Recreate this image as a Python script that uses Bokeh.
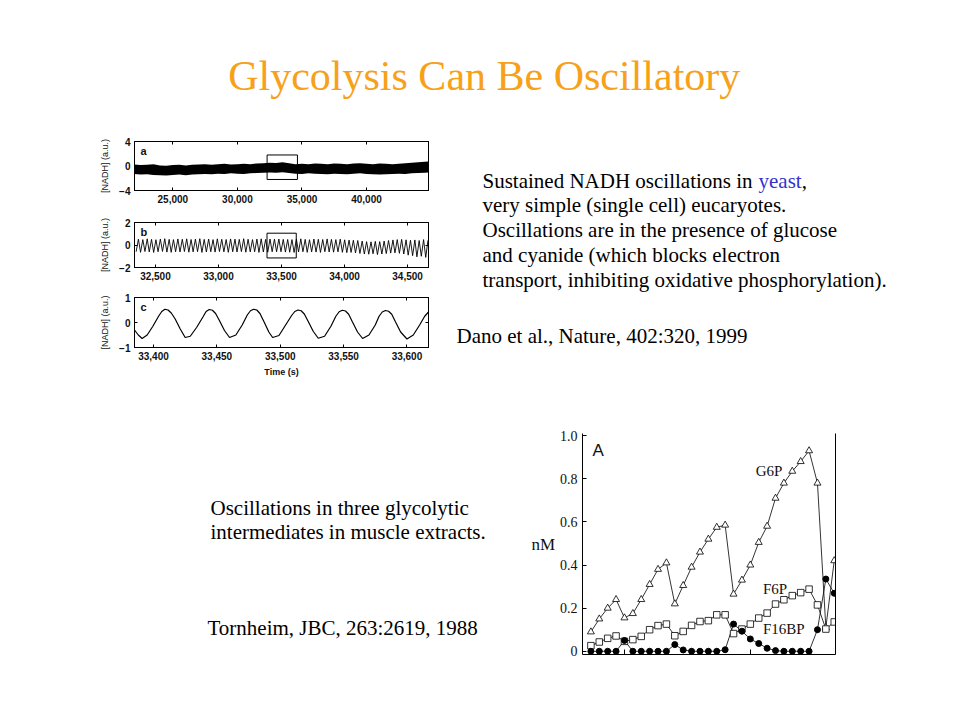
from bokeh.plotting import figure
from bokeh.layouts import column, row
from bokeh.models import Range1d, FixedTicker, NumeralTickFormatter, LinearAxis, Label
from bokeh.core.properties import value
from bokeh.embed import file_html
from bokeh.resources import INLINE

SERIF = "Liberation Serif"
SANS = "Liberation Sans"

# ---------------- data ----------------
title_text = "Glycolysis  Can Be Oscillatory"
yeast_line_start = "Sustained NADH oscillations in "
yeast_word = "yeast"
yeast_line_end = ","
yeast_lines = [
    "very simple (single cell) eucaryotes.",
    "Oscillations are in the presence of glucose",
    "and cyanide (which blocks electron",
    "transport, inhibiting oxidative phosphorylation).",
]
dano_ref = "Dano et al., Nature, 402:320, 1999"
muscle_lines = ["Oscillations in three glycolytic", "intermediates in muscle extracts."]
tornheim_ref = "Tornheim, JBC, 263:2619, 1988"

# panel a: envelope of the dense NADH trace (time s, a.u.)
a_t = [22000, 22500, 23000, 23500, 24000, 24500, 25000, 25500, 26000, 26500,
       27000, 27500, 28000, 28500, 29000, 29500, 30000, 30500, 31000, 31500,
       32000, 32500, 33000, 33500, 34000, 34500, 35000, 35500, 36000, 36500,
       37000, 37500, 38000, 38500, 39000, 39500, 40000, 40500, 41000, 41500,
       42000, 42500, 43000, 43500, 44000, 44500, 44800]
a_upper = [0.25, 0.15, 0.20, 0.30, 0.10, 0.05, 0.15, 0.20, 0.10, 0.20,
           0.25, 0.30, 0.20, 0.30, 0.35, 0.25, 0.30, 0.35, 0.30, 0.40,
           0.45, 0.55, 0.50, 0.60, 0.45, 0.30, 0.35, 0.30, 0.40, 0.35,
           0.30, 0.40, 0.35, 0.30, 0.40, 0.45, 0.35, 0.30, 0.40, 0.35,
           0.30, 0.35, 0.45, 0.55, 0.60, 0.70, 0.75]
a_lower = [-1.30, -1.40, -1.35, -1.45, -1.50, -1.55, -1.45, -1.40, -1.50, -1.40,
           -1.35, -1.30, -1.35, -1.25, -1.30, -1.20, -1.25, -1.30, -1.20, -1.15,
           -1.10, -1.05, -1.10, -1.00, -1.15, -1.25, -1.30, -1.20, -1.25, -1.30,
           -1.35, -1.25, -1.30, -1.35, -1.25, -1.20, -1.30, -1.35, -1.40, -1.35,
           -1.30, -1.25, -1.30, -1.20, -1.15, -1.10, -1.05]
a_box = [32300, 34650, -2.2, 1.8]

# panel b: trough / peak times (s) and values (a.u.)
b_trough_t = [32347, 32382, 32417, 32451, 32486, 32521, 32556, 32591, 32625, 32660,
              32695, 32730, 32765, 32799, 32834, 32869, 32904, 32939, 32973, 33008,
              33043, 33078, 33113, 33147, 33182, 33217, 33252, 33287, 33321, 33356,
              33391, 33426, 33461, 33496, 33531, 33565, 33600, 33635, 33670, 33704,
              33739, 33774, 33809, 33844, 33878, 33913, 33948, 33983, 34018, 34052,
              34087, 34122, 34157, 34192, 34226, 34261, 34296, 34331, 34366, 34400,
              34435, 34470, 34505, 34540, 34574, 34609, 34644]
b_trough_v = [-0.60, -0.65, -0.58, -0.62, -0.66, -0.60, -0.57, -0.63, -0.65, -0.60,
              -0.62, -0.58, -0.64, -0.61, -0.59, -0.66, -0.62, -0.60, -0.63, -0.58,
              -0.61, -0.65, -0.60, -0.62, -0.59, -0.64, -0.61, -0.60, -0.66, -0.62,
              -0.64, -0.60, -0.60, -0.60, -0.63, -0.64, -0.66, -0.62, -0.60, -0.65,
              -0.61, -0.63, -0.66, -0.60, -0.62, -0.64, -0.61, -0.65, -0.68, -0.66,
              -0.70, -0.75, -0.80, -0.82, -0.78, -0.85, -0.80, -0.76, -0.72, -0.70,
              -0.74, -0.80, -0.90, -0.95, -1.05, -1.00, -1.10]
b_peak_t = [32365, 32400, 32435, 32469, 32504, 32539, 32574, 32609, 32643, 32678,
            32713, 32748, 32783, 32817, 32852, 32887, 32922, 32957, 32991, 33026,
            33061, 33096, 33131, 33165, 33200, 33235, 33270, 33305, 33339, 33374,
            33409, 33444, 33479, 33514, 33549, 33583, 33618, 33653, 33688, 33722,
            33757, 33792, 33827, 33862, 33896, 33931, 33966, 34001, 34036, 34070,
            34105, 34140, 34175, 34210, 34244, 34279, 34314, 34349, 34384, 34418,
            34453, 34488, 34523, 34558, 34592, 34627, 34662]
b_peak_v = [0.52, 0.48, 0.55, 0.50, 0.47, 0.53, 0.56, 0.50, 0.48, 0.54,
            0.51, 0.55, 0.49, 0.52, 0.56, 0.50, 0.53, 0.48, 0.55, 0.51,
            0.49, 0.54, 0.52, 0.50, 0.56, 0.51, 0.48, 0.53, 0.55, 0.50,
            0.53, 0.52, 0.53, 0.50, 0.49, 0.48, 0.52, 0.55, 0.50, 0.47,
            0.53, 0.51, 0.49, 0.54, 0.50, 0.48, 0.52, 0.46, 0.44, 0.42,
            0.40, 0.35, 0.30, 0.28, 0.32, 0.30, 0.35, 0.40, 0.45, 0.48,
            0.50, 0.46, 0.42, 0.45, 0.40, 0.48, 0.42]
b_box = [33385, 33617, -1.15, 1.05]

# panel c: NADH trace (time s, a.u.)
c_t = [33385, 33388, 33391, 33395, 33399.5, 33404, 33406.5, 33409, 33411.5, 33414, 33417, 33421,
       33425, 33429, 33434, 33439, 33441.5, 33444, 33446.5, 33449, 33452, 33456,
       33460, 33465, 33470, 33474, 33476.5, 33479, 33481.5, 33484, 33487, 33491,
       33494, 33499, 33504, 33509, 33511.5, 33514, 33516.5, 33519, 33522, 33526,
       33530, 33535, 33540, 33544, 33546.5, 33549, 33551.5, 33554, 33557, 33561,
       33565, 33570, 33575, 33578, 33580.5, 33583, 33585.5, 33588, 33591, 33595,
       33600, 33605, 33610, 33614, 33617]
c_v = [-0.30, -0.50, -0.64, -0.50, -0.15, 0.25, 0.44, 0.53, 0.50, 0.38, 0.15, -0.25,
       -0.60, -0.55, -0.20, 0.22, 0.44, 0.52, 0.49, 0.36, 0.08, -0.32,
       -0.60, -0.50, -0.10, 0.30, 0.47, 0.53, 0.50, 0.36, 0.05, -0.38,
       -0.60, -0.52, -0.12, 0.28, 0.44, 0.50, 0.47, 0.34, 0.05, -0.35,
       -0.63, -0.55, -0.15, 0.26, 0.43, 0.49, 0.46, 0.33, 0.02, -0.38,
       -0.64, -0.50, -0.10, 0.25, 0.42, 0.48, 0.45, 0.33, 0.02, -0.38,
       -0.66, -0.50, -0.10, 0.25, 0.42]

# glycolytic intermediates (time min, mM)
g_t = [2, 4, 6, 8, 10, 12, 14, 16, 18, 20, 22, 24, 26, 28, 30,
       32, 34, 36, 38, 40, 42, 44, 46, 48, 50, 52, 54, 56, 58, 60]
g6p = [0.09, 0.15, 0.20, 0.24, 0.155, 0.175, 0.24, 0.31, 0.38, 0.41,
       0.22, 0.305, 0.39, 0.46, 0.52, 0.575, 0.585, 0.265, 0.33, 0.40,
       0.505, 0.58, 0.71, 0.78, 0.835, 0.88, 0.93, 0.78, 0.11, 0.42]
f6p = [0.026, 0.043, 0.06, 0.071, 0.046, 0.054, 0.069, 0.10, 0.119, 0.126,
       0.072, 0.092, 0.12, 0.138, 0.142, 0.169, 0.169, 0.082, 0.103, 0.126,
       0.154, 0.177, 0.219, 0.239, 0.258, 0.272, 0.288, 0.215, 0.103, 0.136]
f16bp = [0, 0, 0, 0, 0.05, 0, 0, 0, 0, 0,
         0.031, 0.006, 0, 0, 0, 0, 0.007, 0.126, 0.093, 0.057,
         0.036, 0.014, 0.003, 0, 0, 0, 0, 0.10, 0.335, 0.269]
g_yticks = [0, 0.2, 0.4, 0.6, 0.8, 1.0]
g_xticks = [10, 40]

TITLE_COLOR = "#F7A11A"
BLUE = "#3333CC"
INK = "#111111"


# ---------------- helpers ----------------
def canvas(w, top, fh, bottom):
    """Text canvas whose local pixel coords run top-down; frame spans top..top+fh."""
    p = figure(frame_width=w, frame_height=fh, min_border_left=0, min_border_right=0,
               min_border_top=top, min_border_bottom=bottom,
               x_range=Range1d(0, w), y_range=Range1d(top + fh, top),
               x_axis_type=None, y_axis_type=None,
               output_backend="svg", toolbar_location=None)
    p.grid.visible = False
    p.outline_line_color = None
    return p


def put(p, x, y, s, size="21px", color="black", align="left", font=SERIF):
    p.text(x=[x], y=[y], text=[s], text_font=value(font), text_font_size=size,
           text_color=color, text_align=align, text_baseline="alphabetic")


def blank(ticks):
    return {t: "" for t in ticks}


def nadh(xr, yr, xticks, yticks, top, fh, bottom, letter, xlabel=None):
    p = figure(frame_width=294, frame_height=fh, min_border_left=134, min_border_right=12,
               min_border_top=top, min_border_bottom=bottom,
               x_range=Range1d(*xr), y_range=Range1d(*yr),
               output_backend="svg", toolbar_location=None)
    p.grid.visible = False
    p.outline_line_color = "black"
    p.outline_line_width = 1
    for ax, tk in ((p.xaxis[0], xticks), (p.yaxis[0], yticks)):
        ax.ticker = FixedTicker(ticks=tk)
        ax.major_tick_in = 3
        ax.major_tick_out = 0
        ax.minor_tick_line_color = None
        ax.axis_line_color = "black"
        ax.major_label_text_font = SANS
        ax.major_label_text_font_style = "bold"
        ax.major_label_text_font_size = "10px"
        ax.major_label_text_color = INK
    p.xaxis[0].formatter = NumeralTickFormatter(format="0,0")
    p.xaxis[0].major_label_standoff = 4
    p.yaxis[0].major_label_standoff = 4
    p.yaxis[0].axis_label = "[NADH] (a.u.)"
    p.yaxis[0].axis_label_text_font = SANS
    p.yaxis[0].axis_label_text_font_style = "normal"
    p.yaxis[0].axis_label_text_font_size = "9px"
    p.yaxis[0].axis_label_text_color = INK
    p.yaxis[0].axis_label_standoff = 6
    if xlabel:
        p.xaxis[0].axis_label = xlabel
        p.xaxis[0].axis_label_text_font = SANS
        p.xaxis[0].axis_label_text_font_style = "bold"
        p.xaxis[0].axis_label_text_font_size = "9px"
        p.xaxis[0].axis_label_text_color = INK
        p.xaxis[0].axis_label_standoff = 4
    for loc, tk in (("above", xticks), ("right", yticks)):
        ax = LinearAxis(ticker=FixedTicker(ticks=tk), major_tick_in=3, major_tick_out=0,
                        minor_tick_line_color=None, major_label_overrides=blank(tk),
                        major_label_text_font_size="6px",
                        major_label_standoff=0, axis_line_color="black")
        p.add_layout(ax, loc)
    p.add_layout(Label(x=xr[0], y=yr[1], x_offset=6, y_offset=-3, text=letter,
                       text_baseline="top", text_font=SANS, text_font_style="bold",
                       text_font_size="11px", text_color=INK))
    return p


# ---------------- title ----------------
t_fig = canvas(944, 0, 128, 0)
put(t_fig, 489, 75, title_text, size="42px", color=TITLE_COLOR, align="center")

# ---------------- NADH panels ----------------
pa = nadh((22030, 44800), (-4, 4), [25000, 30000, 35000, 40000], [-4, 0, 4], 13, 49, 16, "a")
pa.varea(x=a_t, y1=a_lower, y2=a_upper, fill_color="black")
pa.quad(left=[a_box[0]], right=[a_box[1]], bottom=[a_box[2]], top=[a_box[3]],
        fill_color=None, line_color="black", line_width=1)

pb = nadh((32334, 34666), (-2, 2), [32500, 33000, 33500, 34000, 34500], [-2, 0, 2], 16, 45, 15, "b")
b_x, b_y = [], []
for tt, tv, pt, pv in zip(b_trough_t, b_trough_v, b_peak_t, b_peak_v):
    b_x += [tt, pt]
    b_y += [tv, pv]
pb.line(b_x, b_y, line_color="black", line_width=0.9)
pb.quad(left=[b_box[0]], right=[b_box[1]], bottom=[b_box[2]], top=[b_box[3]],
        fill_color=None, line_color="black", line_width=1)

pc = nadh((33385, 33617), (-1, 1), [33400, 33450, 33500, 33550, 33600], [-1, 0, 1], 15, 50, 38, "c",
          xlabel="Time (s)")
pc.line(c_t, c_v, line_color="black", line_width=1.2)

left_col = column(pa, pb, pc)

# ---------------- yeast text (page x 440.., y 128..385) ----------------
y_fig = canvas(512, 0, 257, 0)
put(y_fig, 42, 52, yeast_line_start)
put(y_fig, 318, 52, yeast_word, color=BLUE)
put(y_fig, 361.2, 52, yeast_line_end)
for i, s in enumerate(yeast_lines):
    put(y_fig, 42, 52 + 24.75 * (i + 1), s)
put(y_fig, 16, 207, dano_ref)

band2 = row(left_col, y_fig)

# ---------------- muscle text (page x 0..528, y 385..) ----------------
m_fig = canvas(528, 48, 221, 58)
put(m_fig, 210, 122, muscle_lines[0])
put(m_fig, 210, 146, muscle_lines[1])
put(m_fig, 207, 242, tornheim_ref)

# ---------------- glycolytic intermediates ----------------
g = figure(frame_width=253, frame_height=221, min_border_left=52, min_border_right=17,
           min_border_top=48, min_border_bottom=58,
           x_range=Range1d(0, 60.3), y_range=Range1d(-0.015, 1.01),
           output_backend="svg", toolbar_location=None)
g.grid.visible = False
g.outline_line_color = None
ya = g.yaxis[0]
ya.ticker = FixedTicker(ticks=g_yticks)
ya.major_label_overrides = {0: "0", 1: "1.0"}
ya.major_tick_in = 4
ya.major_tick_out = 0
ya.minor_tick_line_color = None
ya.major_label_text_font = SERIF
ya.major_label_text_font_size = "14px"
ya.major_label_text_color = INK
ya.major_label_standoff = 5
ya.axis_label = "nM"
ya.axis_label_orientation = "horizontal"
ya.axis_label_text_font = SERIF
ya.axis_label_text_font_style = "normal"
ya.axis_label_text_font_size = "17px"
ya.axis_label_text_color = INK
ya.axis_label_standoff = 2
xa = g.xaxis[0]
xa.ticker = FixedTicker(ticks=g_xticks)
xa.major_tick_in = 5
xa.major_tick_out = 0
xa.minor_tick_line_color = None
xa.major_label_overrides = blank(g_xticks)
xa.major_label_text_font_size = "6px"
g.add_layout(LinearAxis(ticker=FixedTicker(ticks=[]), major_label_text_font_size="6px",
                        minor_tick_line_color=None, major_tick_line_color=None,
                        axis_line_color="black"), "right")

g.line(g_t, g6p, line_color="black", line_width=0.8)
g.line(g_t, f6p, line_color="black", line_width=0.8)
g.line(g_t, f16bp, line_color="black", line_width=0.8)
g.scatter(g_t, g6p, marker="triangle", size=7, fill_color="white", line_color="black", line_width=0.8)
g.scatter(g_t, f6p, marker="square", size=6.5, fill_color="white", line_color="black", line_width=0.8)
g.scatter(g_t, f16bp, marker="circle", size=6, fill_color="black", line_color="black")

g.add_layout(Label(x=2.4, y=0.977, text="A", text_baseline="top",
                   text_font=SANS, text_font_size="17px", text_color=INK))
g.add_layout(Label(x=41.3, y=0.80, text="G6P", text_font=SERIF, text_font_size="15px", text_color=INK))
g.add_layout(Label(x=43.0, y=0.252, text="F6P", text_font=SERIF, text_font_size="15px", text_color=INK))
g.add_layout(Label(x=43.0, y=0.068, text="F16BP", text_font=SERIF, text_font_size="15px", text_color=INK))

band3 = row(m_fig, g)

page = column(t_fig, band2, band3)

open("out.html", "w").write(file_html(page, INLINE))
